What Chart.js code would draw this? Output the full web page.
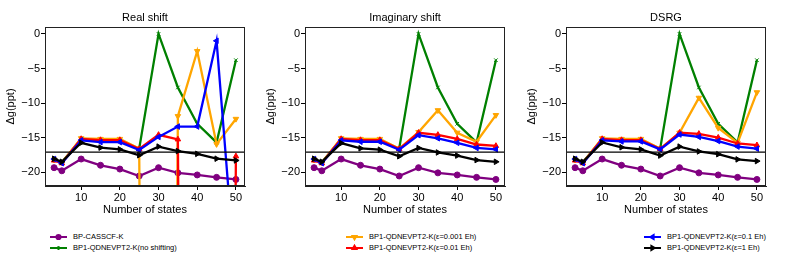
<!DOCTYPE html>
<html>
<head>
<meta charset="utf-8">
<script src="https://cdn.jsdelivr.net/npm/chart.js@4"></script>
<style>
  body { margin: 0; background: #fff; width: 793px; height: 263px; overflow: hidden; position: relative; font-family: "Liberation Sans", Arial, sans-serif; }
  canvas.panel { position: absolute; top: 0; }
  .legend { position: absolute; font-size: 7.5px; color: #000; }
  .legend .row { position: absolute; left: 0; white-space: nowrap; height: 10px; line-height: 10px; }
  .legend .row canvas { position: absolute; left: 0; top: 1px; }
  .legend .row span { position: absolute; left: 23px; top: 0; }
</style>
</head>
<body>
<canvas class="panel" id="chartReal" width="260" height="225" style="left:0px"></canvas>
<canvas class="panel" id="chartImag" width="260" height="225" style="left:260px"></canvas>
<canvas class="panel" id="chartDsrg" width="260" height="225" style="left:521px"></canvas>
<div class="legend" id="legend1" style="left:50px; top:232px"></div>
<div class="legend" id="legend2" style="left:346px; top:232px"></div>
<div class="legend" id="legend3" style="left:644px; top:232px"></div>

<script>
// --- data ---
const nStates = [3, 5, 10, 15, 20, 25, 30, 35, 40, 45, 50];
const xTicks = [10, 20, 30, 40, 50];
const yTicks = [-20, -15, -10, -5, 0];
const refLine = -17.1;

// shared by all three panels
const casscf  = [-19.35, -19.8, -18.1, -19.0, -19.55, -20.55, -19.35, -20.1, -20.4, -20.75, -21.05];
const noShift = [-18.2, -18.6, -15.2, -15.3, -15.3, -16.6, 0.0, -7.75, -13.0, -15.7, -3.8];

// Real shift
const real001 = [-18.2, -18.6, -15.1, -15.2, -15.2, -16.6, -400, -11.9, -2.5, -15.95, -12.3];
const real01  = [-18.3, -18.7, -15.2, -15.35, -15.35, -16.65, -14.6, -15.25, -400, -400, -17.7];
const real1   = [-18.1, -18.7, -15.4, -15.65, -15.65, -16.8, -14.9, -13.4, -13.4, -1.0, -36];
const realK1  = [-18.05, -18.5, -15.75, -16.45, -16.7, -17.55, -16.3, -16.95, -17.35, -18.05, -18.3];

// Imaginary shift
const imag001 = [-18.2, -18.6, -15.1, -15.2, -15.2, -16.6, -14.2, -11.05, -14.3, -15.6, -11.75];
const imag01  = [-18.3, -18.7, -15.2, -15.35, -15.35, -16.65, -14.3, -14.6, -15.2, -16.0, -16.2];
const imag1   = [-18.1, -18.7, -15.4, -15.6, -15.6, -16.75, -14.65, -15.1, -15.75, -16.5, -16.7];
const imagK1  = [-18.05, -18.5, -15.8, -16.55, -16.75, -17.7, -16.5, -17.15, -17.6, -18.25, -18.5];

// DSRG
const dsrg001 = [-18.2, -18.6, -15.1, -15.2, -15.2, -16.6, -14.3, -9.25, -13.6, -15.75, -8.45];
const dsrg01  = [-18.3, -18.7, -15.2, -15.35, -15.35, -16.65, -14.3, -14.45, -15.0, -15.85, -16.1];
const dsrg1   = [-18.1, -18.7, -15.4, -15.55, -15.55, -16.7, -14.55, -14.9, -15.5, -16.3, -16.6];
const dsrgK1  = [-18.05, -18.5, -15.7, -16.4, -16.7, -17.6, -16.3, -17.0, -17.4, -18.15, -18.4];

// series styles: label, colour, marker
const seriesStyle = [
    { label: 'BP-CASSCF-K', color: '#800080', marker: 'circle', rot: 0, r: 3 },
    { label: 'BP1-QDNEVPT2-K(no shifting)', color: '#008000', marker: 'crossRot', rot: 0, r: 2.5 },
    { label: 'BP1-QDNEVPT2-K(\u03b5=0.001 Eh)', color: '#FFA500', marker: 'triangle', rot: 180, r: 3.2 },
    { label: 'BP1-QDNEVPT2-K(\u03b5=0.01 Eh)', color: '#FF0000', marker: 'triangle', rot: 0, r: 3.2 },
    { label: 'BP1-QDNEVPT2-K(\u03b5=0.1 Eh)', color: '#0000FF', marker: 'triangle', rot: 270, r: 3.2 },
    { label: 'BP1-QDNEVPT2-K(\u03b5=1 Eh)', color: '#000000', marker: 'triangle', rot: 90, r: 3.2 }
];

const FONT = '"Liberation Sans", Arial, sans-serif';

// --- small plugins: panel title over the plot area, reference line, box frame ---
const panelTitlePlugin = {
    id: 'panelTitle',
    afterDraw(chart, args, opts) {
        const { ctx, chartArea } = chart;
        ctx.save();
        ctx.fillStyle = '#000';
        ctx.font = '11px ' + FONT;
        ctx.textAlign = 'center';
        ctx.textBaseline = 'middle';
        ctx.fillText(opts.text, (chartArea.left + chartArea.right) / 2, chartArea.top - 9);
        ctx.restore();
    }
};

const refLinePlugin = {
    id: 'refLine',
    afterDatasetsDraw(chart) {
        const { ctx, chartArea, scales } = chart;
        const y = scales.y.getPixelForValue(refLine);
        ctx.save();
        ctx.strokeStyle = '#000';
        ctx.lineWidth = 1.2;
        ctx.beginPath();
        ctx.moveTo(chartArea.left, y);
        ctx.lineTo(chartArea.right, y);
        ctx.stroke();
        ctx.restore();
    }
};

const framePlugin = {
    id: 'frame',
    afterDraw(chart) {
        const { ctx, chartArea } = chart;
        ctx.save();
        ctx.strokeStyle = '#222';
        ctx.lineWidth = 1;
        ctx.strokeRect(chartArea.left + 0.5, chartArea.top + 0.5,
            chartArea.right - chartArea.left - 1, chartArea.bottom - chartArea.top - 1);
        ctx.restore();
    }
};

function toPoints(values) {
    return nStates.map((x, i) => ({ x: x, y: values[i] }));
}

function makeChart(canvasId, title, seriesValues) {
    const datasets = seriesValues.map((vals, i) => {
        const s = seriesStyle[i];
        return {
            label: s.label,
            data: toPoints(vals),
            borderColor: s.color,
            backgroundColor: s.color,
            pointBorderColor: s.color,
            pointBackgroundColor: s.color,
            borderWidth: 2.3,
            pointStyle: s.marker,
            pointRotation: s.rot,
            pointRadius: s.r,
            pointBorderWidth: 1,
            tension: 0,
            clip: 0,
            order: 6 - i
        };
    });

    return new Chart(document.getElementById(canvasId), {
        type: 'line',
        data: { datasets: datasets },
        options: {
            responsive: false,
            animation: false,
            devicePixelRatio: 1,
            layout: { padding: { top: 27, right: 15, bottom: 0, left: 0 } },
            plugins: {
                legend: { display: false },
                tooltip: { enabled: false },
                title: { display: false },
                panelTitle: { text: title }
            },
            scales: {
                x: {
                    type: 'linear',
                    min: 0.65,
                    max: 52.35,
                    afterBuildTicks: (scale) => { scale.ticks = xTicks.map(v => ({ value: v })); },
                    afterFit: (scale) => { scale.height = 39; },
                    grid: { drawOnChartArea: false, tickLength: 4, color: '#000' },
                    border: { display: true, color: '#222' },
                    ticks: {
                        color: '#000', padding: 1, maxRotation: 0,
                        font: { family: FONT, size: 11 }
                    },
                    title: {
                        display: true, text: 'Number of states', color: '#000',
                        font: { family: FONT, size: 11 },
                        padding: { top: 8, bottom: 8 }
                    }
                },
                y: {
                    min: -22,
                    max: 1,
                    afterBuildTicks: (scale) => { scale.ticks = yTicks.map(v => ({ value: v })); },
                    afterFit: (scale) => { scale.width = 45; },
                    grid: { drawOnChartArea: false, tickLength: 4, color: '#000' },
                    border: { display: true, color: '#222' },
                    ticks: {
                        color: '#000', padding: 1,
                        font: { family: FONT, size: 11 },
                        callback: (v) => String(v).replace('-', '\u2212')
                    },
                    title: {
                        display: true, text: '\u0394g(ppt)', color: '#000',
                        font: { family: FONT, size: 11 },
                        padding: { top: 4, bottom: 4 }
                    }
                }
            }
        },
        plugins: [refLinePlugin, framePlugin, panelTitlePlugin]
    });
}

makeChart('chartReal', 'Real shift', [casscf, noShift, real001, real01, real1, realK1]);
makeChart('chartImag', 'Imaginary shift', [casscf, noShift, imag001, imag01, imag1, imagK1]);
makeChart('chartDsrg', 'DSRG', [casscf, noShift, dsrg001, dsrg01, dsrg1, dsrgK1]);

// --- legends below each panel (two entries each) ---
function drawHandle(cv, s) {
    const ctx = cv.getContext('2d');
    const cy = cv.height / 2;
    ctx.fillStyle = s.color;
    ctx.strokeStyle = s.color;
    ctx.lineWidth = 2;
    ctx.beginPath();
    ctx.moveTo(0, cy);
    ctx.lineTo(cv.width, cy);
    ctx.stroke();
    // marker in the middle, same shape as on the plot but smaller
    Chart.helpers.drawPoint(ctx, {
        pointStyle: s.marker, rotation: s.rot, radius: s.r * 0.7, borderWidth: 1
    }, cv.width / 2, cy);
}

function buildLegend(divId, idxs) {
    const box = document.getElementById(divId);
    idxs.forEach((idx, row) => {
        const s = seriesStyle[idx];
        const r = document.createElement('div');
        r.className = 'row';
        r.style.top = (row * 10.6) + 'px';
        const cv = document.createElement('canvas');
        cv.width = 17; cv.height = 8;
        r.appendChild(cv);
        const t = document.createElement('span');
        t.textContent = s.label;
        r.appendChild(t);
        box.appendChild(r);
        drawHandle(cv, s);
    });
}

buildLegend('legend1', [0, 1]);
buildLegend('legend2', [2, 3]);
buildLegend('legend3', [4, 5]);
</script>
</body>
</html>
